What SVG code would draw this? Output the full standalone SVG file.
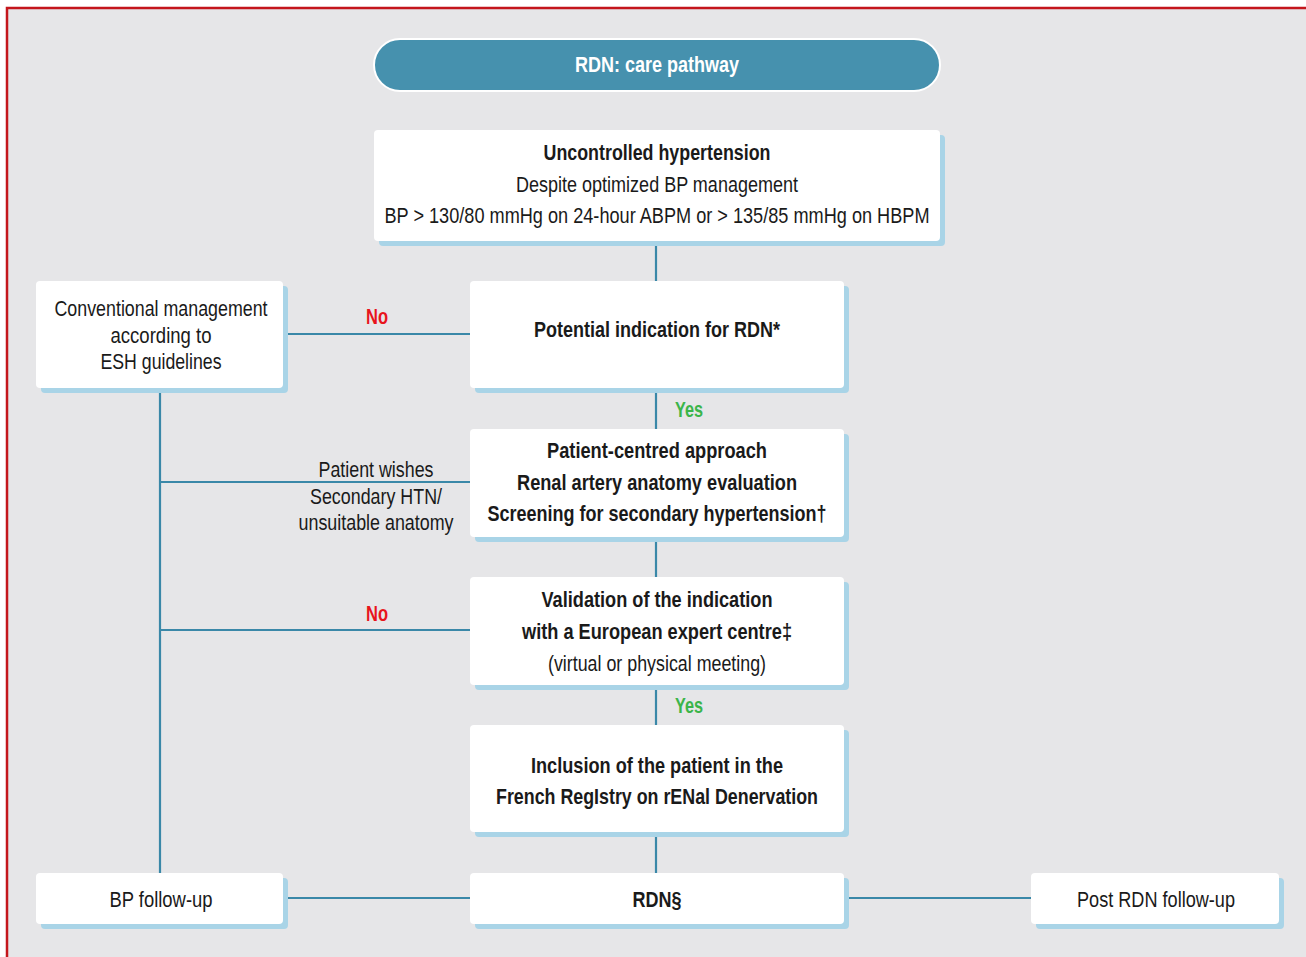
<svg xmlns="http://www.w3.org/2000/svg" width="1306" height="957" viewBox="0 0 1306 957">
<style>
.bg{fill:#e6e6e8}
.sh{fill:#a9d4e7}
.bx{fill:#ffffff}
.ln{stroke:#3a88a8;stroke-width:2.2;fill:none}
text{font-family:"Liberation Sans",Arial,sans-serif;font-size:22px;fill:#1a1a1a;text-anchor:middle}
.b{font-weight:bold}
.no{fill:#e8141c;font-weight:bold}
.yes{fill:#3bb54a;font-weight:bold}
</style>
<rect x="0" y="0" width="1306" height="957" fill="#ffffff"/>
<rect class="bg" x="7" y="8" width="1310" height="960"/>
<path d="M7,957 V8 H1306" stroke="#c4161c" stroke-width="2.5" fill="none"/>
<g id="connectors">
<path class="ln" d="M656,241 V281"/>
<path class="ln" d="M283,334 H470"/>
<path class="ln" d="M656,388 V429"/>
<path class="ln" d="M656,537 V577"/>
<path class="ln" d="M656,685 V725"/>
<path class="ln" d="M656,832 V873"/>
<path class="ln" d="M160,388 V873"/>
<path class="ln" d="M160,482 H470"/>
<path class="ln" d="M160,630 H470"/>
<path class="ln" d="M283,898 H470"/>
<path class="ln" d="M844,898 H1031"/>
<text class="no" x="377" y="324" textLength="22" lengthAdjust="spacingAndGlyphs">No</text>
<text class="yes" x="689" y="417" textLength="28" lengthAdjust="spacingAndGlyphs">Yes</text>
<text x="376" y="477" textLength="115" lengthAdjust="spacingAndGlyphs">Patient wishes</text>
<text x="376" y="504" textLength="132" lengthAdjust="spacingAndGlyphs">Secondary HTN/</text>
<text x="376" y="530" textLength="155" lengthAdjust="spacingAndGlyphs">unsuitable anatomy</text>
<text class="no" x="377" y="621" textLength="22" lengthAdjust="spacingAndGlyphs">No</text>
<text class="yes" x="689" y="713" textLength="28" lengthAdjust="spacingAndGlyphs">Yes</text>
</g>
<g id="title">
<rect x="374" y="39" width="566" height="52" rx="26" fill="#4691ae" stroke="#ffffff" stroke-width="2"/>
<text class="b" x="657" y="72" style="fill:#ffffff" textLength="164" lengthAdjust="spacingAndGlyphs">RDN: care pathway</text>
</g>
<g id="uncontrolled">
<rect class="sh" x="379" y="135" width="566" height="111" rx="4"/>
<rect class="bx" x="374" y="130" width="566" height="111" rx="4"/>
<text class="b" x="657" y="160" textLength="227" lengthAdjust="spacingAndGlyphs">Uncontrolled hypertension</text>
<text x="657" y="192" textLength="282" lengthAdjust="spacingAndGlyphs">Despite optimized BP management</text>
<text x="657" y="223" textLength="545" lengthAdjust="spacingAndGlyphs">BP &gt; 130/80 mmHg on 24-hour ABPM or &gt; 135/85 mmHg on HBPM</text>
</g>
<g id="conventional">
<rect class="sh" x="41" y="286" width="247" height="107" rx="4"/>
<rect class="bx" x="36" y="281" width="247" height="107" rx="4"/>
<text x="161" y="316" textLength="213" lengthAdjust="spacingAndGlyphs">Conventional management</text>
<text x="161" y="343" textLength="101" lengthAdjust="spacingAndGlyphs">according to</text>
<text x="161" y="369" textLength="121" lengthAdjust="spacingAndGlyphs">ESH guidelines</text>
</g>
<g id="potential">
<rect class="sh" x="475" y="286" width="374" height="107" rx="4"/>
<rect class="bx" x="470" y="281" width="374" height="107" rx="4"/>
<text class="b" x="657" y="337" textLength="246" lengthAdjust="spacingAndGlyphs">Potential indication for RDN*</text>
</g>
<g id="patient">
<rect class="sh" x="475" y="434" width="374" height="108" rx="4"/>
<rect class="bx" x="470" y="429" width="374" height="108" rx="4"/>
<text class="b" x="657" y="458" textLength="220" lengthAdjust="spacingAndGlyphs">Patient-centred approach</text>
<text class="b" x="657" y="490" textLength="280" lengthAdjust="spacingAndGlyphs">Renal artery anatomy evaluation</text>
<text class="b" x="657" y="521" textLength="339" lengthAdjust="spacingAndGlyphs">Screening for secondary hypertension†</text>
</g>
<g id="validation">
<rect class="sh" x="475" y="582" width="374" height="108" rx="4"/>
<rect class="bx" x="470" y="577" width="374" height="108" rx="4"/>
<text class="b" x="657" y="607" textLength="231" lengthAdjust="spacingAndGlyphs">Validation of the indication</text>
<text class="b" x="657" y="639" textLength="270" lengthAdjust="spacingAndGlyphs">with a European expert centre‡</text>
<text x="657" y="671" textLength="218" lengthAdjust="spacingAndGlyphs">(virtual or physical meeting)</text>
</g>
<g id="inclusion">
<rect class="sh" x="475" y="730" width="374" height="107" rx="4"/>
<rect class="bx" x="470" y="725" width="374" height="107" rx="4"/>
<text class="b" x="657" y="773" textLength="252" lengthAdjust="spacingAndGlyphs">Inclusion of the patient in the</text>
<text class="b" x="657" y="804" textLength="322" lengthAdjust="spacingAndGlyphs">French RegIstry on rENal Denervation</text>
</g>
<g id="bpfollow">
<rect class="sh" x="41" y="878" width="247" height="51" rx="4"/>
<rect class="bx" x="36" y="873" width="247" height="51" rx="4"/>
<text x="161" y="907" textLength="103" lengthAdjust="spacingAndGlyphs">BP follow-up</text>
</g>
<g id="rdn">
<rect class="sh" x="475" y="878" width="374" height="51" rx="4"/>
<rect class="bx" x="470" y="873" width="374" height="51" rx="4"/>
<text class="b" x="657" y="907" textLength="49" lengthAdjust="spacingAndGlyphs">RDN§</text>
</g>
<g id="postrdn">
<rect class="sh" x="1036" y="878" width="248" height="51" rx="4"/>
<rect class="bx" x="1031" y="873" width="248" height="51" rx="4"/>
<text x="1156" y="907" textLength="158" lengthAdjust="spacingAndGlyphs">Post RDN follow-up</text>
</g>
</svg>
